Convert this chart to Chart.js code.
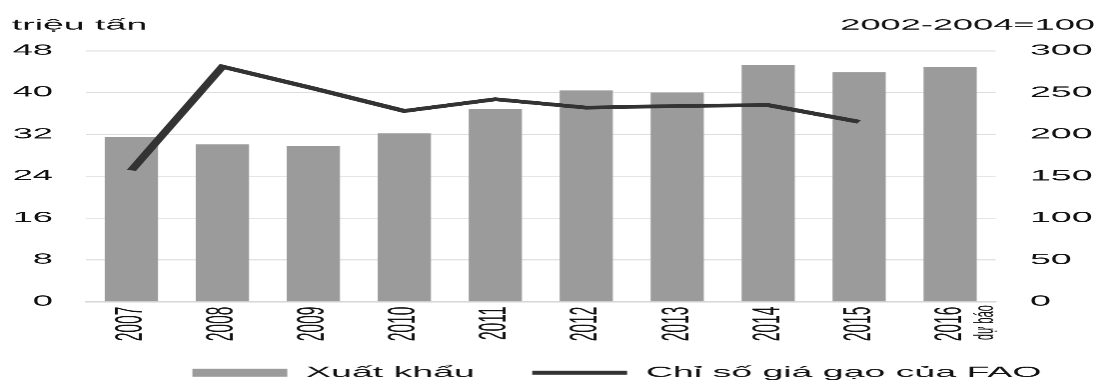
<!DOCTYPE html>
<html>
<head>
<meta charset="utf-8">
<script src="https://cdn.jsdelivr.net/npm/chart.js@4"></script>
<style>
  html, body { margin: 0; padding: 0; background: #fff; overflow: hidden; }
  /* the source picture is stretched sideways, so the chart is drawn narrow and widened */
  #wrap { width: 440px; height: 383px; transform: scaleX(2.4977); transform-origin: 0 0; }
</style>
</head>
<body>
<div id="wrap"><canvas id="riceChart"></canvas></div>
<script>
// --- données ---
const years = ['2007', '2008', '2009', '2010', '2011', '2012', '2013', '2014', '2015', '2016'];
const exportVolume = [31.5, 30.1, 29.8, 32.2, 36.8, 40.4, 40.0, 45.3, 43.9, 44.9]; // triệu tấn
const faoPriceIndex = [157, 281, 255, 228, 242, 232, 234, 235, 215, null];    // 2002-2004=100
const leftTicks = [0, 8, 16, 24, 32, 40, 48];
const rightTicks = [0, 50, 100, 150, 200, 250, 300];

const FONT = "'Liberation Sans', Arial, sans-serif";
const TEXT = '#111111';

// unités en haut des axes + mention "dự báo" sous 2016
const extraText = {
    id: 'extraText',
    afterDraw(chart) {
        const ctx = chart.ctx;
        const area = chart.chartArea;
        ctx.save();
        ctx.fillStyle = TEXT;
        ctx.textBaseline = 'alphabetic';
        ctx.font = `15px ${FONT}`;
        ctx.textAlign = 'left';
        ctx.fillText('triệu tấn', 4.7, 29.5);
        ctx.font = `14.5px ${FONT}`;
        ctx.textAlign = 'right';
        ctx.fillText('2002-2004=100', 438.4, 29.5);

        const x = chart.scales.x.getPixelForValue(years.length - 1) + 14;
        ctx.translate(x, area.bottom + 3.5);
        ctx.rotate(-Math.PI / 2);
        ctx.font = `11px ${FONT}`;
        ctx.textAlign = 'right';
        ctx.textBaseline = 'middle';
        ctx.fillText('dự báo', 0, 0);
        ctx.restore();
    }
};

new Chart(document.getElementById('riceChart'), {
    data: {
        labels: years,
        datasets: [
            {
                type: 'line',
                label: 'Chỉ số giá gạo của FAO',
                data: faoPriceIndex,
                yAxisID: 'y1',
                borderColor: '#333333',
                backgroundColor: '#333333',
                borderWidth: 3.8,
                pointRadius: 0,
                pointHoverRadius: 0,
                pointBorderWidth: 4,
                pointStyle: 'line',
                tension: 0,
                spanGaps: false,
                order: 0
            },
            {
                type: 'bar',
                label: 'Xuất khẩu',
                data: exportVolume,
                yAxisID: 'y',
                backgroundColor: '#9b9b9b',
                borderWidth: 0,
                barPercentage: 0.585,
                categoryPercentage: 1,
                pointStyle: 'rect',
                order: 1
            }
        ]
    },
    options: {
        responsive: true,
        maintainAspectRatio: false,
        animation: false,
        devicePixelRatio: 2.5,
        layout: { padding: { top: 50.7, left: 0, right: 0, bottom: -7 } },
        plugins: {
            legend: {
                position: 'bottom',
                align: 'end',
                reverse: true,
                labels: {
                    usePointStyle: true,
                    pointStyleWidth: 38,
                    boxHeight: 8,
                    padding: 23,
                    color: TEXT,
                    font: { family: FONT, size: 15 }
                }
            },
            tooltip: { enabled: false }
        },
        scales: {
            x: {
                grid: { display: false, drawTicks: false },
                border: { display: true, color: '#cfcfcf', width: 1 },
                ticks: {
                    maxRotation: 90,
                    minRotation: 90,
                    padding: 5,
                    color: TEXT,
                    font: { family: FONT, size: 15.5 }
                },
                afterFit(scale) { scale.height = 40.5; }
            },
            y: {
                position: 'left',
                min: 0,
                max: 48,
                afterBuildTicks(scale) { scale.ticks = leftTicks.map(v => ({ value: v })); },
                grid: { color: '#dedede', lineWidth: 1, drawTicks: false },
                border: { display: false },
                ticks: {
                    padding: 13.2,
                    color: TEXT,
                    font: { family: FONT, size: 14.5 }
                },
                afterFit(scale) { scale.width = 34.4; }
            },
            y1: {
                position: 'right',
                min: 0,
                max: 300,
                afterBuildTicks(scale) { scale.ticks = rightTicks.map(v => ({ value: v })); },
                grid: { drawOnChartArea: false, drawTicks: false },
                border: { display: false },
                ticks: {
                    padding: 13.8,
                    color: TEXT,
                    font: { family: FONT, size: 15 }
                },
                afterFit(scale) { scale.width = 41.4; }
            }
        }
    },
    plugins: [extraText]
});
</script>
</body>
</html>
